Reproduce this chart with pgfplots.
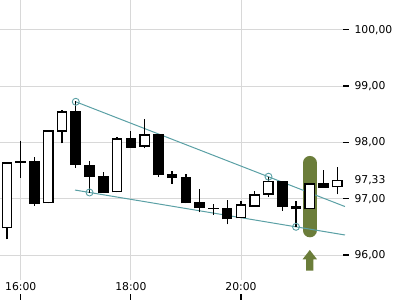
\documentclass[border=0pt]{standalone}
\usepackage{fontspec}
\setmainfont{DejaVu Sans}
\usepackage{pgfplots}
\pgfplotsset{compat=1.18}
\usepackage{pgfplotstable}
\definecolor{gridc}{RGB}{216,216,216}
\definecolor{teal2}{RGB}{90,160,165}
\definecolor{olive2}{RGB}{107,125,58}

% up (white) candles: time, body top, body bottom, high, low
\pgfplotstableread{
t     top     bot     hi      lo
15.75 97.646  96.474  97.646  96.279
16.50 98.213  96.917  98.213  96.917
16.75 98.551  98.189  98.568  97.982
17.75 98.071  97.113  98.089  97.113
18.25 98.142  97.923  98.414  97.894
20.00 96.900  96.652  96.959  96.652
20.25 97.078  96.857  97.136  96.857
20.50 97.319  97.070  97.390  97.035
21.25 97.273  96.811  97.273  96.811
21.75 97.331  97.202  97.557  97.078
}\up

% down (black) candles
\pgfplotstableread{
t     top     bot     hi      lo
16.00 97.675  97.639  98.024  97.373
16.25 97.669  96.911  97.740  96.876
17.00 98.551  97.604  98.734  97.550
17.25 97.592  97.391  97.669  97.107
17.50 97.397  97.107  97.473  97.107
18.00 98.071  97.905  98.201  97.905
18.50 98.148  97.420  98.148  97.391
18.75 97.438  97.373  97.491  97.266
19.00 97.379  96.918  97.438  96.918
19.25 96.936  96.829  97.166  96.758
19.50 96.840  96.817  96.905  96.710
19.75 96.829  96.634  96.976  96.545
20.75 97.314  96.857  97.314  96.786
21.00 96.870  96.811  96.959  96.502
21.50 97.273  97.195  97.509  97.195
}\dn

\begin{document}
\begin{tikzpicture}
\path[use as bounding box] (0,0) rectangle (400pt,300pt);
\begin{axis}[
  at={(0,0)}, anchor=south west,
  scale only axis, width=343pt, height=300pt,
  xmin=15.624, xmax=21.853, ymin=95.201, ymax=100.527,
  clip=false,
  axis x line*=bottom, axis y line*=right,
  axis line style={draw=none},
  xtick={16,18,20}, xticklabels={16:00,18:00,20:00},
  ytick={96,97,98,99,100},
  yticklabels={{96,00},{97,00},{98,00},{99,00},{100,00}},
  grid=major, grid style={gridc, line width=0.9pt},
  xtick align=inside, ytick align=outside,
  major tick length=6pt,
  tick style={black, line width=1.1pt},
  tick label style={font=\fontsize{10.8}{13}\selectfont, text=black},
  xticklabel style={anchor=center, yshift=13pt, fill=white, inner sep=3pt},
  yticklabel style={anchor=west, xshift=2pt},
  extra y ticks={97.33}, extra y tick labels={97{,}33},
  extra y tick style={grid=none, major tick length=0pt, yticklabel style={xshift=6pt}},
]
% highlight
\addplot[draw=none, mark=none, forget plot,
  error bars/.cd, y dir=both, y explicit, error mark=none,
  error bar style={draw=olive2, line width=14pt, line cap=round}]
  coordinates {(21.25,97.036) +- (0,0.598)};
% arrow
\addplot[fill=olive2, draw=none, forget plot] coordinates {
  (21.25,96.089) (21.381,95.924) (21.316,95.924) (21.316,95.721)
  (21.184,95.721) (21.184,95.924) (21.119,95.924)} -- cycle;
% trend lines
\addplot[teal2, line width=1pt, mark=none] coordinates {(17,98.72) (21.889,96.86)};
\addplot[teal2, line width=1pt, mark=none] coordinates {(16.986,97.153) (21.889,96.355)};
% wicks
\addplot[draw=none, mark=none, forget plot,
  error bars/.cd, y dir=plus, y explicit, error mark=none,
  error bar style={draw=black, line width=1.3pt}]
  table[x=t, y=lo, y error expr=\thisrow{hi}-\thisrow{lo}] {\up};
\addplot[draw=none, mark=none, forget plot,
  error bars/.cd, y dir=plus, y explicit, error mark=none,
  error bar style={draw=black, line width=1.3pt}]
  table[x=t, y=lo, y error expr=\thisrow{hi}-\thisrow{lo}] {\dn};
% bodies (outer black)
\addplot[draw=none, mark=none, forget plot,
  error bars/.cd, y dir=plus, y explicit, error mark=none,
  error bar style={draw=black, line width=10.6pt}]
  table[x=t, y=bot, y error expr=\thisrow{top}-\thisrow{bot}] {\up};
\addplot[draw=none, mark=none, forget plot,
  error bars/.cd, y dir=plus, y explicit, error mark=none,
  error bar style={draw=black, line width=10.6pt}]
  table[x=t, y=bot, y error expr=\thisrow{top}-\thisrow{bot}] {\dn};
% white inner of up candles
\addplot[draw=none, mark=none, forget plot,
  error bars/.cd, y dir=plus, y explicit, error mark=none,
  error bar style={draw=white, line width=8.0pt}]
  table[x=t, y expr=\thisrow{bot}+0.024, y error expr=\thisrow{top}-\thisrow{bot}-0.048] {\up};
% circles
\addplot[only marks, mark=o, mark size=3.5pt, teal2, line width=0.9pt]
  coordinates {(17,98.72) (17.25,97.11) (20.5,97.39) (21,96.50)};
\end{axis}
\end{tikzpicture}
\end{document}
